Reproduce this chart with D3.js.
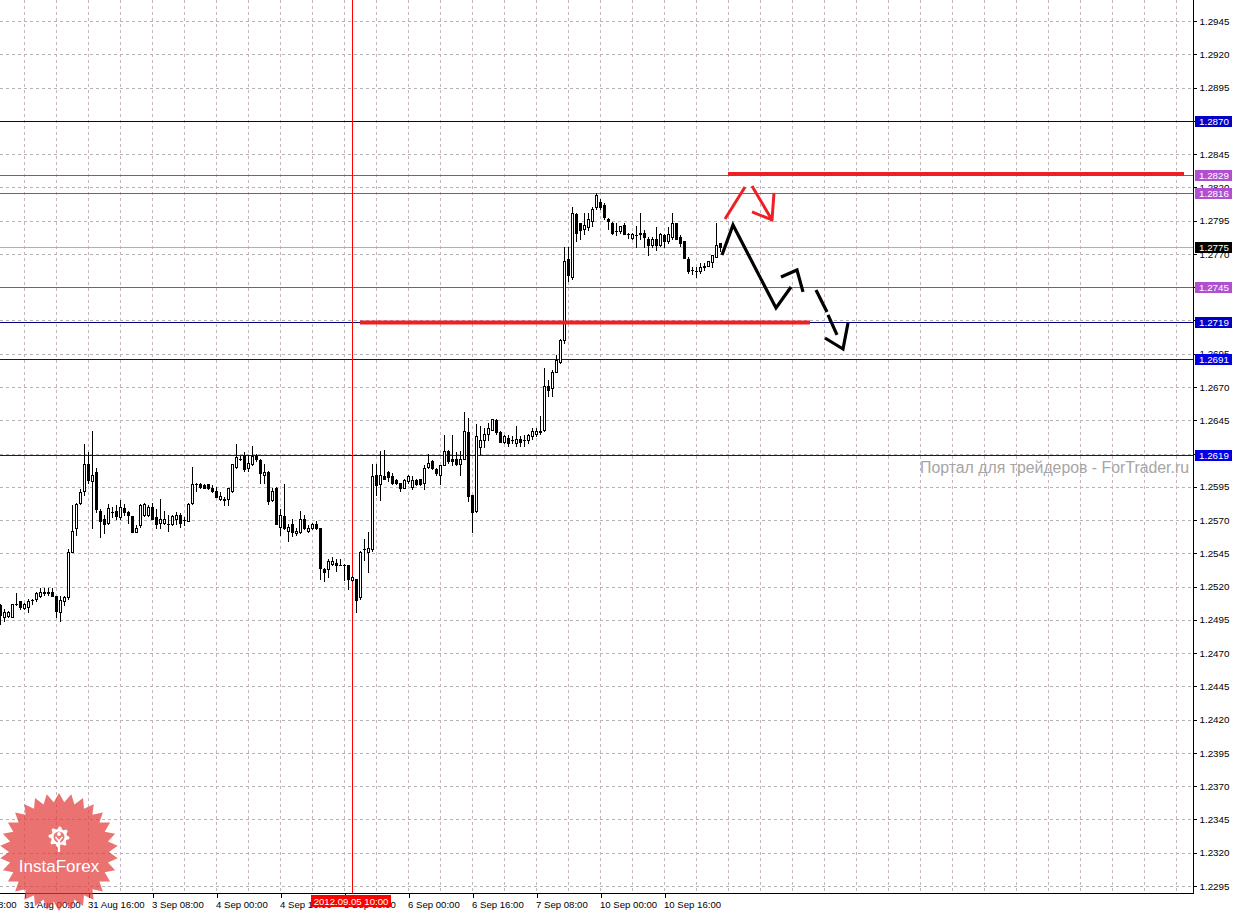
<!DOCTYPE html>
<html>
<head>
<meta charset="utf-8">
<script src="https://cdn.jsdelivr.net/npm/d3@7"></script>
<style>
html, body { margin: 0; padding: 0; background: #fff; }
svg { display: block; font-family: "Liberation Sans", Arial, sans-serif; }
</style>
</head>
<body>
<svg id="chart" width="1235" height="913"></svg>
<script>
// H1 bars, first bar index relative to "31 Aug 00:00"
const firstBar = -6;

const openP = [
  1.2506,1.2497,1.2498,1.2497,1.2507,1.2509,1.2504,1.2505,1.2510,1.2511,
  1.2513,1.2516,1.2516,1.2516,1.2513,1.2501,1.2509,1.2512,1.2546,1.2564,
  1.2583,1.2592,1.2612,1.2599,1.2606,1.2577,1.2571,1.2568,1.2576,1.2577,
  1.2572,1.2579,1.2576,1.2573,1.2561,1.2566,1.2574,1.2574,1.2580,1.2572,
  1.2568,1.2568,1.2567,1.2567,1.2571,1.2574,1.2570,1.2569,1.2583,1.2597,
  1.2597,1.2596,1.2597,1.2594,1.2592,1.2586,1.2586,1.2586,1.2592,1.2610,
  1.2616,1.2619,1.2609,1.2612,1.2618,1.2615,1.2604,1.2606,1.2585,1.2594,
  1.2565,1.2573,1.2562,1.2567,1.2560,1.2561,1.2571,1.2562,1.2564,1.2567,
  1.2564,1.2533,1.2533,1.2537,1.2538,1.2536,1.2536,1.2536,1.2525,1.2526,
  1.2512,1.2548,1.2546,1.2548,1.2604,1.2597,1.2603,1.2606,1.2603,1.2600,
  1.2598,1.2594,1.2599,1.2595,1.2600,1.2601,1.2598,1.2610,1.2614,1.2608,
  1.2604,1.2611,1.2622,1.2616,1.2616,1.2612,1.2616,1.2636,1.2589,1.2577,
  1.2625,1.2630,1.2635,1.2638,1.2645,1.2636,1.2629,1.2632,1.2630,1.2628,
  1.2631,1.2630,1.2630,1.2633,1.2635,1.2637,1.2638,1.2671,1.2669,1.2681,
  1.2689,1.2705,1.2766,1.2753,1.2800,1.2793,1.2789,1.2790,1.2795,1.2805,
  1.2809,1.2807,1.2796,1.2793,1.2787,1.2787,1.2792,1.2785,1.2782,1.2784,
  1.2785,1.2786,1.2781,1.2777,1.2781,1.2777,1.2784,1.2780,1.2783,1.2793,
  1.2783,1.2780,1.2766,1.2758,1.2757,1.2757,1.2760,1.2761,1.2764,1.2768,1.2778
];
const highP = [
  1.2507,1.2503,1.2502,1.2507,1.2515,1.2509,1.2508,1.2511,1.2511,1.2516,
  1.2519,1.2519,1.2519,1.2519,1.2513,1.2513,1.2513,1.2548,1.2581,1.2583,
  1.2593,1.2627,1.2621,1.2637,1.2609,1.2578,1.2574,1.2582,1.2580,1.2581,
  1.2585,1.2582,1.2577,1.2573,1.2566,1.2582,1.2583,1.2581,1.2583,1.2578,
  1.2586,1.2577,1.2574,1.2574,1.2576,1.2575,1.2572,1.2583,1.2610,1.2598,
  1.2598,1.2597,1.2597,1.2596,1.2595,1.2591,1.2587,1.2594,1.2612,1.2627,
  1.2618,1.2621,1.2619,1.2626,1.2620,1.2616,1.2612,1.2607,1.2594,1.2595,
  1.2578,1.2597,1.2567,1.2571,1.2564,1.2577,1.2574,1.2566,1.2568,1.2569,
  1.2564,1.2534,1.2541,1.2542,1.2541,1.2541,1.2537,1.2536,1.2528,1.2526,
  1.2547,1.2556,1.2561,1.2612,1.2612,1.2622,1.2623,1.2607,1.2605,1.2601,
  1.2598,1.2601,1.2604,1.2603,1.2601,1.2601,1.2611,1.2620,1.2615,1.2609,
  1.2611,1.2634,1.2623,1.2634,1.2621,1.2622,1.2651,1.2647,1.2589,1.2642,
  1.2641,1.2639,1.2643,1.2646,1.2646,1.2637,1.2634,1.2634,1.2633,1.2641,
  1.2633,1.2634,1.2635,1.2639,1.2639,1.2648,1.2684,1.2675,1.2683,1.2694,
  1.2706,1.2775,1.2775,1.2805,1.2801,1.2793,1.2801,1.2801,1.2805,1.2816,
  1.2811,1.2808,1.2797,1.2794,1.2793,1.2791,1.2793,1.2786,1.2786,1.2791,
  1.2801,1.2788,1.2783,1.2783,1.2790,1.2786,1.2785,1.2790,1.2801,1.2793,
  1.2784,1.2780,1.2768,1.2760,1.2760,1.2763,1.2763,1.2765,1.2769,1.2793,1.2778
];
const lowP = [
  1.2492,1.2494,1.2497,1.2497,1.2506,1.2503,1.2503,1.2501,1.2507,1.2509,
  1.2512,1.2514,1.2514,1.2513,1.2497,1.2494,1.2506,1.2511,1.2546,1.2559,
  1.2582,1.2589,1.2598,1.2564,1.2576,1.2557,1.2560,1.2567,1.2572,1.2571,
  1.2571,1.2574,1.2568,1.2561,1.2561,1.2565,1.2573,1.2573,1.2571,1.2564,
  1.2564,1.2567,1.2562,1.2566,1.2567,1.2565,1.2566,1.2569,1.2582,1.2592,
  1.2594,1.2594,1.2593,1.2591,1.2587,1.2585,1.2581,1.2581,1.2591,1.2609,
  1.2615,1.2607,1.2607,1.2611,1.2614,1.2598,1.2598,1.2582,1.2584,1.2567,
  1.2559,1.2563,1.2554,1.2558,1.2559,1.2560,1.2563,1.2561,1.2563,1.2563,
  1.2526,1.2524,1.2527,1.2536,1.2532,1.2536,1.2525,1.2518,1.2524,1.2501,
  1.2511,1.2540,1.2531,1.2547,1.2589,1.2585,1.2601,1.2599,1.2597,1.2597,
  1.2592,1.2594,1.2598,1.2593,1.2596,1.2596,1.2593,1.2609,1.2608,1.2604,
  1.2597,1.2611,1.2613,1.2611,1.2611,1.2604,1.2616,1.2584,1.2561,1.2576,
  1.2620,1.2625,1.2630,1.2638,1.2635,1.2629,1.2628,1.2626,1.2628,1.2626,
  1.2626,1.2626,1.2628,1.2631,1.2633,1.2635,1.2637,1.2663,1.2663,1.2681,
  1.2688,1.2703,1.2750,1.2751,1.2780,1.2781,1.2785,1.2788,1.2791,1.2804,
  1.2804,1.2796,1.2789,1.2785,1.2784,1.2786,1.2785,1.2782,1.2781,1.2775,
  1.2781,1.2775,1.2769,1.2775,1.2773,1.2776,1.2775,1.2778,1.2781,1.2781,
  1.2776,1.2767,1.2756,1.2755,1.2753,1.2756,1.2758,1.2761,1.2760,1.2768,1.2772
];
const closeP = [
  1.2499,1.2501,1.2501,1.2507,1.2507,1.2505,1.2507,1.2509,1.2510,1.2515,
  1.2516,1.2515,1.2515,1.2513,1.2502,1.2510,1.2512,1.2546,1.2562,1.2582,
  1.2591,1.2612,1.2600,1.2604,1.2578,1.2569,1.2567,1.2579,1.2576,1.2573,
  1.2580,1.2576,1.2574,1.2561,1.2564,1.2581,1.2582,1.2580,1.2571,1.2567,
  1.2571,1.2571,1.2567,1.2573,1.2574,1.2568,1.2570,1.2582,1.2597,1.2597,
  1.2595,1.2594,1.2594,1.2592,1.2587,1.2588,1.2585,1.2594,1.2612,1.2617,
  1.2616,1.2608,1.2613,1.2618,1.2616,1.2605,1.2606,1.2584,1.2592,1.2567,
  1.2574,1.2564,1.2565,1.2561,1.2562,1.2571,1.2564,1.2564,1.2567,1.2564,
  1.2534,1.2531,1.2539,1.2539,1.2536,1.2536,1.2536,1.2526,1.2527,1.2510,
  1.2546,1.2548,1.2549,1.2603,1.2596,1.2604,1.2601,1.2602,1.2598,1.2598,
  1.2594,1.2600,1.2603,1.2600,1.2597,1.2597,1.2609,1.2613,1.2609,1.2605,
  1.2611,1.2622,1.2614,1.2614,1.2612,1.2616,1.2637,1.2588,1.2576,1.2633,
  1.2630,1.2635,1.2639,1.2646,1.2636,1.2629,1.2633,1.2628,1.2630,1.2631,
  1.2629,1.2630,1.2634,1.2637,1.2637,1.2636,1.2671,1.2668,1.2681,1.2690,
  1.2705,1.2765,1.2754,1.2801,1.2786,1.2788,1.2792,1.2796,1.2804,1.2814,
  1.2805,1.2798,1.2795,1.2786,1.2787,1.2791,1.2785,1.2785,1.2785,1.2784,
  1.2786,1.2783,1.2777,1.2781,1.2777,1.2785,1.2780,1.2785,1.2793,1.2781,
  1.2778,1.2767,1.2757,1.2758,1.2757,1.2760,1.2761,1.2765,1.2769,1.2777,1.2775
];

// time axis
const timeLabels = ['30 Aug 08:00', '31 Aug 00:00', '31 Aug 16:00', '3 Sep 08:00', '4 Sep 00:00',
  '4 Sep 16:00', '5 Sep 08:00', '6 Sep 00:00', '6 Sep 16:00', '7 Sep 08:00', '10 Sep 00:00', '10 Sep 16:00'];
const timeLabelBars = [-16, 0, 16, 32, 48, 64, 80, 96, 112, 128, 144, 160];

// price axis
const priceTicks = [1.2295, 1.2320, 1.2345, 1.2370, 1.2395, 1.2420, 1.2445, 1.2470, 1.2495,
  1.2520, 1.2545, 1.2570, 1.2595, 1.2620, 1.2645, 1.2670, 1.2695, 1.2720, 1.2745,
  1.2770, 1.2795, 1.2820, 1.2845, 1.2870, 1.2895, 1.2920, 1.2945];

// horizontal levels drawn on the chart
const levelPrices = [1.2870, 1.2829, 1.2816, 1.2775, 1.2745, 1.2719, 1.2691, 1.2619];
const levelKinds  = ['navy', 'purple', 'purple', 'bid', 'purple', 'navy', 'blue', 'blue'];

// vertical marker
const markerBar = 82;
const markerLabel = '2012.09.05 10:00';

// hand-drawn red levels (price, from bar, to bar)
const redLevelPrices = [1.2830, 1.27184];
const redLevelFrom = [176, 84];
const redLevelTo = [290, 196.5];

// hand-drawn arrows: lists of [bar, price]
const redArrow = [
  [[175.25, 1.27962], [180.25, 1.28203]],
  [[182, 1.28210], [187, 1.27955]],
  [[182, 1.28015], [187, 1.27955], [187.5, 1.28158]]
];
const blackArrow = [
  [[174.5, 1.27692], [177.25, 1.27917], [188, 1.27293], [191.75, 1.27451]],
  [[189.25, 1.27526], [193.25, 1.27579], [194.75, 1.27414]],
  [[198, 1.27429], [200.75, 1.27263]],
  [[201, 1.27241], [203.25, 1.27091]],
  [[200.25, 1.27068], [204.75, 1.26985], [206, 1.27181]]
];

const watermark = 'Портал для трейдеров - ForTrader.ru';
const logoText = 'InstaForex';

const kindStyle = {
  navy:   { line: '#00007a', box: '#0000c8', text: '#fff' },
  blue:   { line: '#0000ff', box: '#0000e6', text: '#fff' },
  purple: { line: '#9a40c0', box: '#b050d0', text: '#fff' },
  bid:    { line: '#b0b0b0', box: '#000000', text: '#fff' }
};

const W = 1235, H = 913;
const plotRight = 1193, plotBottom = 893;

const svg = d3.select('#chart');
svg.append('rect').attr('width', W).attr('height', H).attr('fill', '#fff');

const x = d3.scaleLinear().domain([0, 160]).range([24, 664]);
const y = d3.scaleLinear().domain([1.2295, 1.2945]).range([886, 21]);

const bars = openP.map((o, i) => ({
  k: firstBar + i, o: o, h: highP[i], l: lowP[i], c: closeP[i]
}));

// GRID
const grid = svg.append('g').attr('class', 'grid').attr('shape-rendering', 'crispEdges');
grid.selectAll('line.h')
  .data(priceTicks)
  .join('line')
  .attr('class', 'h')
  .attr('x1', 0).attr('x2', plotRight)
  .attr('y1', d => Math.round(y(d)) + 0.5).attr('y2', d => Math.round(y(d)) + 0.5)
  .attr('stroke', '#b4b4b4')
  .attr('stroke-dasharray', '3,3');
const vgrid = d3.range(0, 37).map(m => m * 8);
grid.selectAll('line.v')
  .data(vgrid)
  .join('line')
  .attr('class', 'v')
  .attr('x1', d => Math.round(x(d)) + 0.5).attr('x2', d => Math.round(x(d)) + 0.5)
  .attr('y1', 0).attr('y2', plotBottom)
  .attr('stroke', '#c4b4c4')
  .attr('stroke-dasharray', '3,3');

// LEVEL LINES
svg.append('g').attr('shape-rendering', 'crispEdges')
  .selectAll('line')
  .data(levelPrices)
  .join('line')
  .attr('x1', 0).attr('x2', plotRight)
  .attr('y1', d => Math.round(y(d)) + 0.5).attr('y2', d => Math.round(y(d)) + 0.5)
  .attr('stroke', (d, i) => kindStyle[levelKinds[i]].line);

// red vertical marker
svg.append('line')
  .attr('shape-rendering', 'crispEdges')
  .attr('x1', Math.round(x(markerBar)) + 0.5).attr('x2', Math.round(x(markerBar)) + 0.5)
  .attr('y1', 0).attr('y2', plotBottom)
  .attr('stroke', '#ff0000');

// CANDLES
const gC = svg.append('g').attr('class', 'candles').attr('shape-rendering', 'crispEdges');
bars.forEach(b => {
  const cx = Math.round(x(b.k));
  const yh = Math.round(y(b.h)), yl = Math.round(y(b.l));
  const top = Math.round(y(Math.max(b.o, b.c)));
  const bot = Math.round(y(Math.min(b.o, b.c)));
  gC.append('line')
    .attr('x1', cx + 0.5).attr('x2', cx + 0.5)
    .attr('y1', yh).attr('y2', yl + 1)
    .attr('stroke', '#000');
  if (bot - top < 1) {
    gC.append('line')
      .attr('x1', cx - 1).attr('x2', cx + 2)
      .attr('y1', top + 0.5).attr('y2', top + 0.5)
      .attr('stroke', '#000');
  } else {
    gC.append('rect')
      .attr('x', cx - 0.5).attr('y', top + 0.5)
      .attr('width', 2).attr('height', bot - top)
      .attr('fill', b.c >= b.o ? '#fff' : '#000')
      .attr('stroke', '#000');
  }
});

// red hand-drawn levels
svg.append('g')
  .selectAll('line')
  .data(redLevelPrices)
  .join('line')
  .attr('x1', (d, i) => x(redLevelFrom[i])).attr('x2', (d, i) => x(redLevelTo[i]))
  .attr('y1', d => y(d)).attr('y2', d => y(d))
  .attr('stroke', '#ee2026').attr('stroke-width', 4);

// arrows
const line = d3.line().x(d => x(d[0])).y(d => y(d[1]));
svg.append('g').selectAll('path')
  .data(redArrow)
  .join('path')
  .attr('d', line)
  .attr('fill', 'none')
  .attr('stroke', '#ee2026')
  .attr('stroke-width', 3)
  .attr('stroke-linejoin', 'miter');
svg.append('g').selectAll('path')
  .data(blackArrow)
  .join('path')
  .attr('d', line)
  .attr('fill', 'none')
  .attr('stroke', '#000')
  .attr('stroke-width', 3.2)
  .attr('stroke-linejoin', 'miter');

// AXES
svg.append('line').attr('shape-rendering', 'crispEdges')
  .attr('x1', plotRight + 0.5).attr('x2', plotRight + 0.5)
  .attr('y1', 0).attr('y2', plotBottom + 1)
  .attr('stroke', '#000');
svg.append('line').attr('shape-rendering', 'crispEdges')
  .attr('x1', 0).attr('x2', plotRight + 1)
  .attr('y1', plotBottom + 0.5).attr('y2', plotBottom + 0.5)
  .attr('stroke', '#000');

const yAxis = d3.axisRight(y)
  .tickValues(priceTicks)
  .tickFormat(d3.format('.4f'))
  .tickSize(3)
  .tickPadding(3);
const gy = svg.append('g')
  .attr('transform', `translate(${plotRight + 0.5},0)`)
  .call(yAxis);
gy.select('.domain').remove();
gy.selectAll('.tick line').attr('stroke', '#000').attr('shape-rendering', 'crispEdges');
gy.selectAll('.tick text')
  .attr('font-family', '"Liberation Sans", Arial, sans-serif')
  .attr('font-size', 9.8).attr('fill', '#000');

const xAxis = d3.axisBottom(x)
  .tickValues(timeLabelBars)
  .tickFormat((d, i) => timeLabels[i])
  .tickSize(4)
  .tickPadding(4);
const gx = svg.append('g')
  .attr('transform', `translate(0.5,${plotBottom + 0.5})`)
  .call(xAxis);
gx.select('.domain').remove();
gx.selectAll('.tick line').attr('stroke', '#000').attr('shape-rendering', 'crispEdges');
gx.selectAll('.tick text')
  .attr('font-family', '"Liberation Sans", Arial, sans-serif')
  .attr('font-size', 9.6).attr('fill', '#000')
  .attr('text-anchor', 'start').attr('x', -1);

// level price boxes on the right scale
const gL = svg.append('g');
levelPrices.forEach((p, i) => {
  const st = kindStyle[levelKinds[i]];
  const yy = Math.round(y(p));
  gL.append('rect')
    .attr('x', plotRight + 2).attr('y', yy - 5)
    .attr('width', 37).attr('height', 11)
    .attr('fill', st.box);
  gL.append('text')
    .attr('x', plotRight + 6).attr('y', yy + 3.5)
    .attr('font-size', 9.8).attr('fill', st.text)
    .text(d3.format('.4f')(p));
});

// marker date box
const mx = Math.round(x(markerBar));
svg.append('rect')
  .attr('x', mx - 41).attr('y', plotBottom + 2)
  .attr('width', 80).attr('height', 12)
  .attr('fill', '#ff0000');
svg.append('text')
  .attr('x', mx - 1).attr('y', plotBottom + 11.5)
  .attr('text-anchor', 'middle')
  .attr('font-size', 9.6).attr('fill', '#fff')
  .text(markerLabel);

// watermark
svg.append('text')
  .attr('x', 1189).attr('y', 473)
  .attr('text-anchor', 'end')
  .attr('font-size', 15.8).attr('fill', '#a8a4a4')
  .attr('textLength', 269).attr('lengthAdjust', 'spacingAndGlyphs')
  .text(watermark);

// InstaForex badge
const logo = svg.append('g').attr('transform', 'translate(59,852)');
const nPts = 30, R = 59, r0 = 50;
const starPts = d3.range(nPts * 2).map(j => {
  const a = j * Math.PI / nPts - Math.PI / 2;
  const rr = j % 2 === 0 ? R : r0;
  return [rr * Math.cos(a), rr * Math.sin(a)];
});
logo.append('path')
  .attr('d', d3.line()(starPts) + 'Z')
  .attr('fill', '#e23c3a').attr('fill-opacity', 0.72);
// gear
const teeth = 8;
const gearPts = d3.range(teeth * 4).map(j => {
  const a = j * Math.PI / (teeth * 2) - Math.PI / 2;
  const rr = (Math.floor(j / 2) % 2 === 0) ? 10.5 : 8;
  return [rr * Math.cos(a), -15 + rr * Math.sin(a)];
});
logo.append('path').attr('d', d3.line()(gearPts) + 'Z').attr('fill', '#fff');
logo.append('circle').attr('cx', 0).attr('cy', -15).attr('r', 5.5).attr('fill', '#ea7a78');
logo.append('circle').attr('cx', 0).attr('cy', -18).attr('r', 1.9).attr('fill', '#fff');
logo.append('path').attr('d', 'M-3.5,-15 L0,-11 L3.5,-15').attr('fill', 'none').attr('stroke', '#fff').attr('stroke-width', 1.6);
logo.append('line').attr('x1', 0).attr('x2', 0).attr('y1', -11).attr('y2', 0).attr('stroke', '#fff').attr('stroke-width', 2.2);
logo.append('text')
  .attr('x', 0).attr('y', 20)
  .attr('text-anchor', 'middle')
  .attr('font-size', 17).attr('fill', '#fff')
  .text(logoText);
</script>
</body>
</html>
